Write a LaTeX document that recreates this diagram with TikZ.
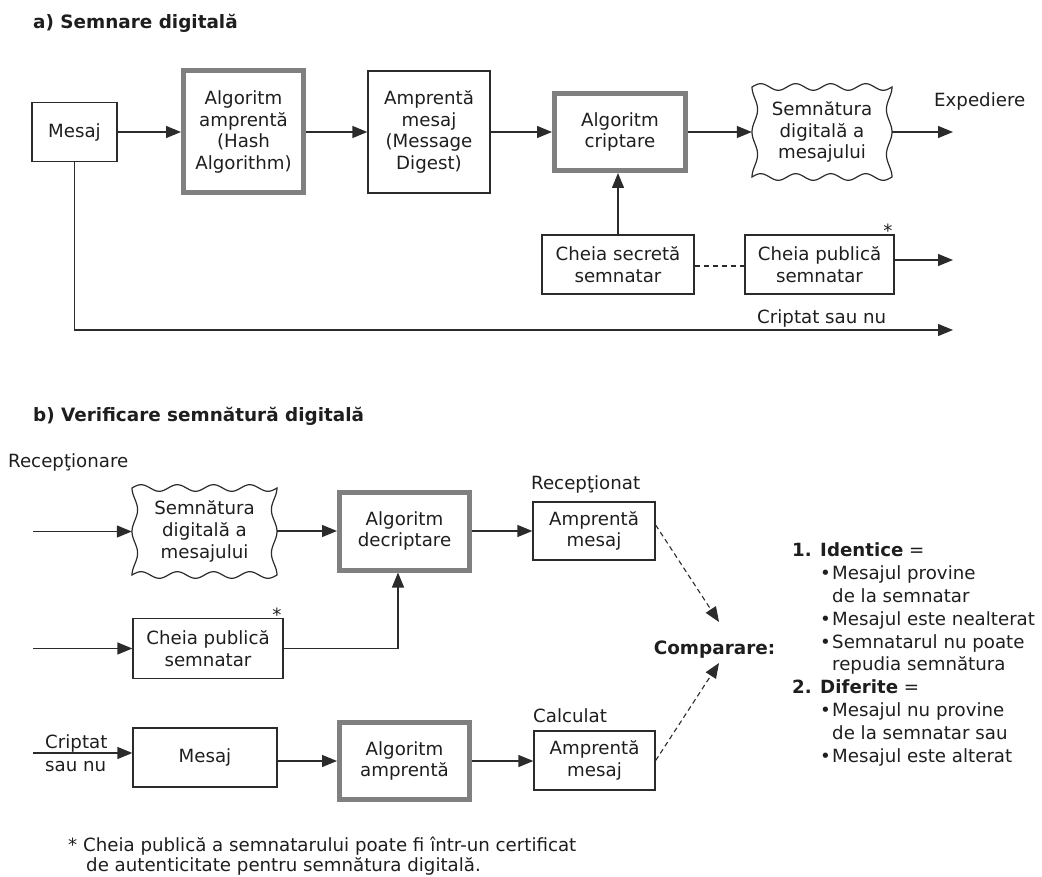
\documentclass[tikz,border=0pt]{standalone}
\usepackage{fontspec}
\setmainfont{DejaVu Sans}
\usetikzlibrary{arrows.meta,calc}
\definecolor{lnc}{HTML}{2B2B2B}
\definecolor{thk}{HTML}{808080}
\definecolor{txc}{HTML}{1E1E1E}
\newcommand\boxfont{\fontsize{18.2}{21.7}\selectfont}
\newcommand\ttlfont{\fontsize{18.4}{22}\selectfont\bfseries}
\newcommand\listfont{\fontsize{18.2}{22.78}\selectfont}
\newcommand\fnfont{\fontsize{18.2}{19.6}\selectfont}
\newcommand\wavyoutline[4]{%
 \draw[wavyline] plot[variable=\t,domain=0:1,samples=90,smooth] ({#1+\t*(#3-#1)},{#2-3.3*sin(1440*\t)})
  -- plot[variable=\t,domain=0:1,samples=40,smooth] ({#3-2.8+2.8*cos(720*\t)},{#2+\t*(#4-#2)})
  -- plot[variable=\t,domain=0:1,samples=90,smooth] ({#3-\t*(#3-#1)},{#4+3.3*sin(1440*\t)})
  -- plot[variable=\t,domain=0:1,samples=40,smooth] ({#1+2.8-2.8*cos(720*\t)},{#4-\t*(#4-#2)}) -- cycle;}
\tikzset{
 every node/.style={inner sep=0pt, text=txc},
 box/.style={draw=lnc, line width=1.3pt, align=center, font=\boxfont},
 hbox/.style={draw=thk, line width=5pt, align=center, font=\boxfont},
 wtxt/.style={align=center, font=\boxfont},
 lbl/.style={font=\boxfont, anchor=base west},
 arr/.style={draw=lnc, line width=1.3pt, -{Triangle[length=15pt,width=12pt]}},
 wavyline/.style={draw=lnc, line width=1.2pt},
 dashline/.style={draw=lnc, line width=1.2pt, dash pattern=on 5pt off 4pt},
 dasharr/.style={arr, line width=1.1pt, dash pattern=on 5pt off 3.5pt},
}
\begin{document}
\begin{tikzpicture}[x=1pt,y=-1pt]
\useasboundingbox (0,0) rectangle (1042,877);
% titles
\node[anchor=base west, font=\ttlfont] (ta) at (33,28.5) {a) Semnare digitală};
\node[anchor=base west, font=\ttlfont] (tb) at (33,421.5) {b) Verificare semnătură digitală};

% ---------- part a ----------
\node[box, minimum width=85pt, minimum height=59pt] (mesA) at (74.5,132) {Mesaj};
\node[hbox, minimum width=120pt, minimum height=122pt] (hashA) at (243.5,132) {Algoritm\\amprentă\\(Hash\\Algorithm)};
\node[box, minimum width=122pt, minimum height=122pt] (digA) at (429,132) {Amprentă\\mesaj\\(Message\\Digest)};
\node[hbox, minimum width=131pt, minimum height=77pt] (critA) at (620,132) {Algoritm\\criptare};
\node[wtxt, minimum width=140pt, minimum height=90pt] (sigA) at (822,132) {Semnătura\\digitală a\\mesajului};
\wavyoutline{752}{87}{892}{177}
\node[lbl] (expA) at (934,106.5) {Expediere};
\coordinate (outE) at (953,132);
\node[box, minimum width=152pt, minimum height=59pt] (secA) at (618,264.5) {Cheia secretă\\semnatar};
\node[box, minimum width=149pt, minimum height=59pt] (pubA) at (819.5,264.5) {Cheia publică\\semnatar};
\node[anchor=base, font=\boxfont] (starA) at (888,238) {*};
\coordinate (outP) at (953,260);
\coordinate (dashY) at (0,266);
\node[lbl] (critLbl) at (757,323.5) {Criptat sau nu};
\coordinate (outC) at (953,330);

\draw[arr] (mesA) -- (hashA);
\draw[arr] (hashA) -- (digA);
\draw[arr] (digA) -- (critA);
\draw[arr] (critA) -- (sigA);
\draw[arr] (sigA) -- (outE);
\draw[arr] (secA.north) -- (secA.north |- critA.south);
\draw[dashline] (secA.east |- dashY) -- (pubA.west |- dashY);
\draw[arr] (pubA.east |- outP) -- (outP);
\draw[arr] (mesA.south) |- (outC);

% ---------- part b ----------
\node[lbl] (recL) at (8,467) {Recepţionare};
\node[wtxt, minimum width=145pt, minimum height=87pt] (sigB) at (204.5,531.5) {Semnătura\\digitală a\\mesajului};
\wavyoutline{132}{488}{277}{575}
\coordinate (inS) at (33,531.5);
\node[hbox, minimum width=130pt, minimum height=78pt] (decB) at (404.5,531) {Algoritm\\decriptare};
\node[lbl] (recT) at (531,489.5) {Recepţionat};
\node[box, minimum width=122pt, minimum height=58pt] (digB) at (594,531) {Amprentă\\mesaj};
\node[box, minimum width=150pt, minimum height=60pt] (pubB) at (208,648.5) {Cheia publică\\semnatar};
\node[anchor=base, font=\boxfont] (starB) at (277,621) {*};
\coordinate (inP) at (33,648.5);
\node[anchor=base, font=\ttlfont] (cmp) at (714.5,654.5) {Comparare:};
\coordinate (cmpT) at (719,622);
\coordinate (cmpB) at (719,663);

\node[lbl] (cr1) at (45,748.5) {Criptat};
\node[lbl] (cr2) at (45,771.5) {sau nu};
\coordinate (inM) at (33,753);
\node[box, minimum width=144pt, minimum height=59pt] (mesB) at (205,757.5) {Mesaj};
\node[hbox, minimum width=130pt, minimum height=77pt] (hashB) at (404.5,761) {Algoritm\\amprentă};
\node[lbl] (calc) at (533,722) {Calculat};
\node[box, minimum width=121pt, minimum height=59pt] (digC) at (594.5,760.5) {Amprentă\\mesaj};

\draw[arr] (inS) -- (sigB.west);
\draw[arr] (sigB.east |- decB.west) -- (decB.west);
\draw[arr] (decB) -- (digB);
\draw[arr] (inP) -- (pubB.west);
\draw[arr] (pubB.east) -| ([xshift=-6.5pt]decB.south);
\draw[dasharr] ([yshift=6pt]digB.east) -- (cmpT);
\draw[dasharr] (digC.east) -- (cmpB);
\draw[arr] (inM) -- (inM -| mesB.west);
\draw[arr] (mesB.east |- hashB.west) -- (hashB.west);
\draw[arr] (hashB) -- (hashB -| digC.west);

% result list (base anchor = baseline of last line)
\node[anchor=base west, align=left, font=\listfont] (res) at (792,762) {\textbf{1. Identice} =\\
\hspace*{28pt}\makebox[12pt][l]{•}Mesajul provine\\
\hspace*{40pt}de la semnatar\\
\hspace*{28pt}\makebox[12pt][l]{•}Mesajul este nealterat\\
\hspace*{28pt}\makebox[12pt][l]{•}Semnatarul nu poate\\
\hspace*{40pt}repudia semnătura\\
\textbf{2. Diferite} =\\
\hspace*{28pt}\makebox[12pt][l]{•}Mesajul nu provine\\
\hspace*{40pt}de la semnatar sau\\
\hspace*{28pt}\makebox[12pt][l]{•}Mesajul este alterat};

% footnote
\node[anchor=base west, align=left, font=\fnfont] (fn) at (68,871.5) {* Cheia publică a semnatarului poate fi într-un certificat\\
\hspace*{18pt}de autenticitate pentru semnătura digitală.};
\end{tikzpicture}
\end{document}
